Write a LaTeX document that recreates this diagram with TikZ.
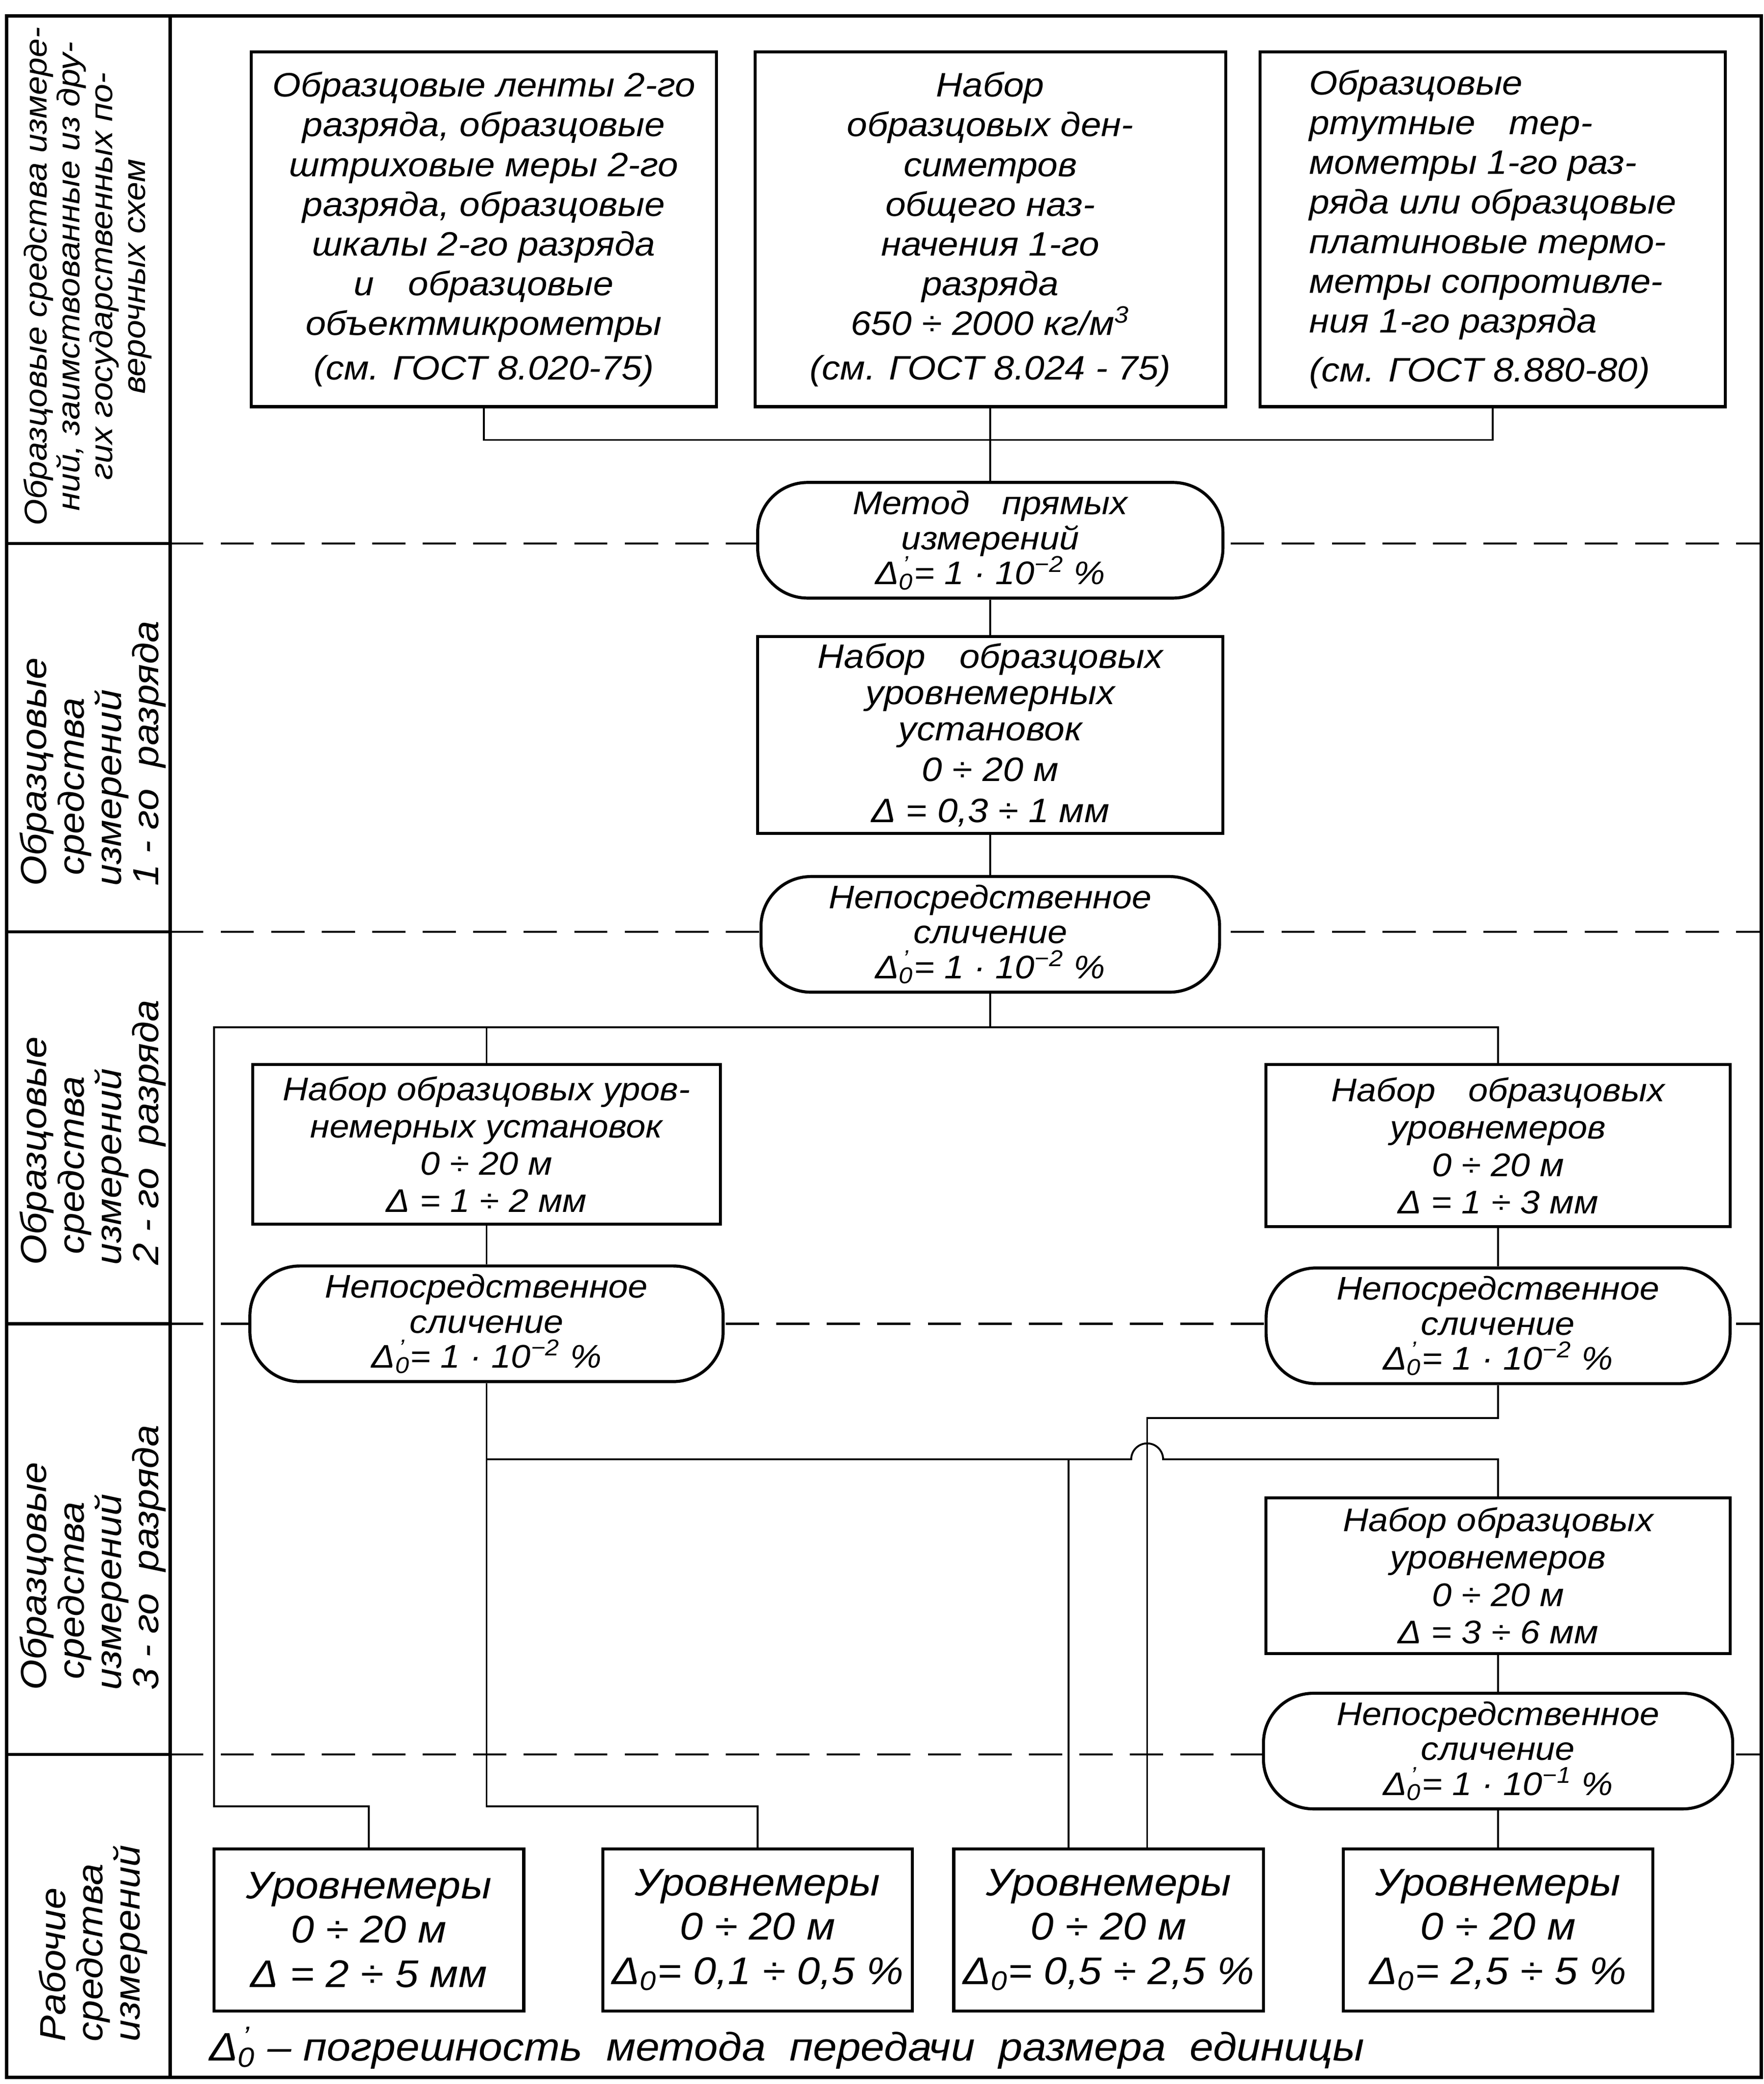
\documentclass[tikz,border=0pt]{standalone}
\usepackage{fontspec}
\setmainfont{Liberation Sans}[FakeStretch=1.08]

\newcommand{\dnp}{Δ\rlap{\textsuperscript{\,'}}\textsubscript{0}}
\newcommand{\dn}{Δ\textsubscript{0}}

\begin{document}
\begin{tikzpicture}[x=0.2mm, y=-0.2mm,
  box/.style = {draw, line width=1.3pt, fill=white, align=center,
    inner sep=1pt, font=\itshape\fontsize{14}{16}\selectfont},
  topbox/.style = {box, minimum height=53.4mm,
    font=\itshape\fontsize{14.5}{17}\selectfont},
  meth/.style = {box, rounded corners=7.5mm, minimum height=17.4mm,
    font=\itshape\fontsize{14}{15}\selectfont},
  work/.style = {box, minimum width=46.6mm, minimum height=24.4mm,
    font=\itshape\fontsize{16.5}{19}\selectfont},
  lane/.style = {rotate=90, align=left, inner sep=0pt,
    font=\itshape\fontsize{15.5}{16}\selectfont},
  link/.style = {line width=0.8pt},
  sep/.style = {line width=0.9pt, dash pattern=on 5mm off 2.6mm},
  frame/.style = {line width=1.3pt}
  ]
  \useasboundingbox (0,0) rectangle (1327,1568);

  % frame and lanes
  \draw[frame] (5,12) rectangle (1325,1563);
  \draw[frame] (128,12) -- (128,1563);
  \foreach \y in {409,701,996,1320} {
    \draw[frame] (5,\y) -- (128,\y);
    \draw[sep] (128,\y) -- (1325,\y);
  }

  \node[lane, align=center, font=\itshape\fontsize{13.5}{14}\selectfont] (l1) at (66,208)
    {Образцовые средства измере-\\ний, заимствованные из дру-\\гих государственных по-\\верочных схем};
  \node[lane] (l2) at (70,567) {Образцовые\\ \ средства\\измерений\\1 - го\ \ разряда};
  \node[lane] (l3) at (70,852) {Образцовые\\ \ средства\\ измерений\\2 - го\ \ разряда};
  \node[lane] (l4) at (70,1172) {Образцовые\\ \ средства\\ измерений\\3 - го\ \ разряда};
  \node[lane] (l5) at (70,1462) {Рабочие\\средства\\измерений};

  % reference standards
  \node[topbox, minimum width=70mm] (src1) at (364,172.5)
    {Образцовые ленты 2-го\\ разряда, образцовые\\ штриховые меры 2-го\\
     разряда, образцовые\\ шкалы 2-го разряда\\ и\quad образцовые\\
     объектмикрометры\\[2pt] (см. ГОСТ 8.020-75)};
  \node[topbox, minimum width=70.8mm] (src2) at (745,172.5)
    {Набор\\ образцовых ден-\\ симетров\\ общего наз-\\ начения 1-го\\
     разряда\\ 650 ÷ 2000 кг/м\textsuperscript{3}\\[2pt] (см. ГОСТ 8.024 - 75)};
  \node[topbox, minimum width=70mm, align=left] (src3) at (1123,172.5)
    {Образцовые\\ ртутные\quad тер-\\ мометры 1-го раз-\\ ряда или образцовые\\
     платиновые термо-\\ метры сопротивле-\\ ния 1-го разряда\\[4pt]
     (см. ГОСТ 8.880-80)};

  % 1st grade
  \node[meth, minimum width=70mm] (meth1) at (745,406.5)
    {Метод\quad прямых\\ измерений\\ \dnp = 1 · 10\textsuperscript{−2} \%};
  \node[box, minimum width=70mm, minimum height=29.6mm,
    font=\itshape\fontsize{14.5}{15.5}\selectfont] (set1) at (745,553)
    {Набор\quad образцовых\\ уровнемерных\\ установок\\[2pt] 0 ÷ 20 м\\[2pt] Δ = 0,3 ÷ 1 мм};
  \node[meth, minimum width=69mm] (cmp1) at (745,703)
    {Непосредственное\\ сличение\\ \dnp = 1 · 10\textsuperscript{−2} \%};

  % 2nd grade
  \node[box, minimum width=70.4mm, minimum height=24mm] (set2a) at (366,861)
    {Набор образцовых уров-\\ немерных установок\\ 0 ÷ 20 м\\ Δ = 1 ÷ 2 мм};
  \node[box, minimum width=69.8mm, minimum height=24.4mm] (set2b) at (1127,862)
    {Набор\quad образцовых\\ уровнемеров\\ 0 ÷ 20 м\\ Δ = 1 ÷ 3 мм};
  \node[meth, minimum width=71.2mm] (cmp2a) at (366,996)
    {Непосредственное\\ сличение\\ \dnp = 1 · 10\textsuperscript{−2} \%};
  \node[meth, minimum width=69.8mm] (cmp2b) at (1127,997.5)
    {Непосредственное\\ сличение\\ \dnp = 1 · 10\textsuperscript{−2} \%};

  % 3rd grade
  \node[box, minimum width=69.8mm, minimum height=23.4mm] (set3) at (1127,1185.5)
    {Набор образцовых\\ уровнемеров\\ 0 ÷ 20 м\\ Δ = 3 ÷ 6 мм};
  \node[meth, minimum width=70.6mm] (cmp3) at (1127,1317.5)
    {Непосредственное\\ сличение\\ \dnp = 1 · 10\textsuperscript{−1} \%};

  % working instruments
  \node[work] (lvl1) at (277.5,1452) {Уровнемеры\\ 0 ÷ 20 м\\ Δ = 2 ÷ 5 мм};
  \node[work] (lvl2) at (570,1452) {Уровнемеры\\ 0 ÷ 20 м\\ \dn = 0,1 ÷ 0,5 \%};
  \node[work] (lvl3) at (834,1452) {Уровнемеры\\ 0 ÷ 20 м\\ \dn = 0,5 ÷ 2,5 \%};
  \node[work] (lvl4) at (1127,1452) {Уровнемеры\\ 0 ÷ 20 м\\ \dn = 2,5 ÷ 5 \%};

  \node[anchor=west, inner sep=0pt, font=\itshape\fontsize{17}{18}\selectfont]
    (note) at (157,1541) {\dnp{} – погрешность\ \ метода\ \ передачи\ \ размера\ \ единицы};

  % connections
  \coordinate (j1) at (745,331);
  \coordinate (k1) at (161,1359);
  \coordinate (k2) at (161,773);
  \coordinate (k3) at (366,1359);
  \coordinate (k4) at (366,1098);
  \coordinate (k5) at (804,1098);
  \coordinate (k6) at (863,1067);

  \draw[link] (src1.south) |- (j1) -| (src3.south);
  \draw[link] (src2.south) -- (meth1.north);
  \draw[link] (meth1.south) -- (set1.north);
  \draw[link] (set1.south) -- (cmp1.north);
  \draw[link] (cmp1.south) -- (cmp1.south |- k2);
  \draw[link] (lvl1.north) |- (k1) -- (k2) -| (set2b.north);
  \draw[link] (set2a.north) -- (set2a.north |- k2);
  \draw[link] (set2a.south) -- (cmp2a.north);
  \draw[link] (set2b.south) -- (cmp2b.north);
  \draw[link] (cmp2a.south) -- (k3) -| (lvl2.north);
  \draw[link] (k4) -- (851,1098) arc[start angle=180, end angle=0, radius=2.4mm]
    -| (set3.north);
  \draw[link] (k5) -- (k5 |- lvl3.north);
  \draw[link] (cmp2b.south) |- (k6) -- (k6 |- lvl3.north);
  \draw[link] (set3.south) -- (cmp3.north);
  \draw[link] (cmp3.south) -- (lvl4.north);
\end{tikzpicture}
\end{document}
